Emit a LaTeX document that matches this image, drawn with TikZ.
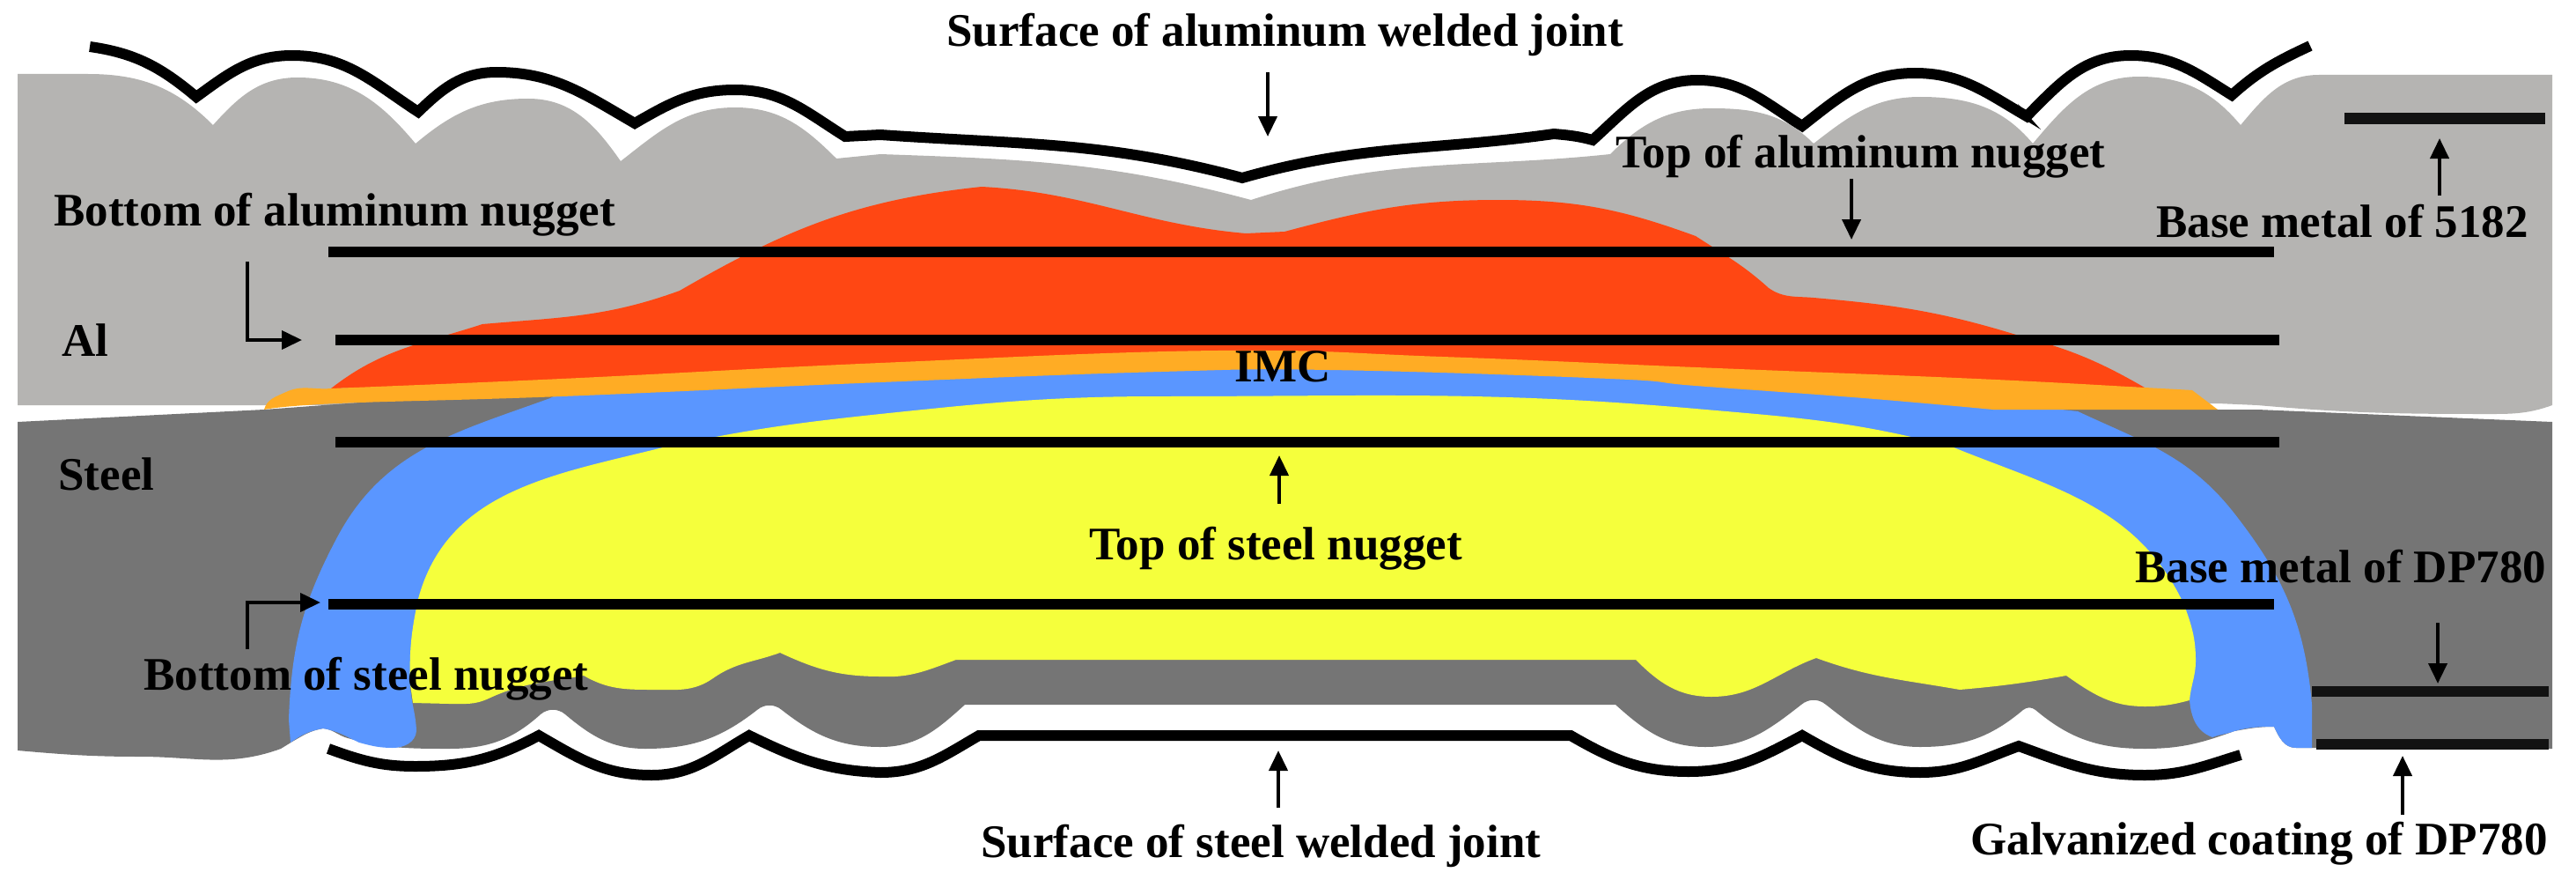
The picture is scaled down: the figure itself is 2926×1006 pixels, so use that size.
\documentclass[tikz,border=0pt]{standalone}
\usepackage{fontspec}
\setmainfont{Liberation Serif}
\usetikzlibrary{arrows.meta}
\definecolor{alcol}{HTML}{B5B4B2}
\definecolor{stcol}{HTML}{757575}
\definecolor{redcol}{HTML}{FF4713}
\definecolor{orcol}{HTML}{FFAC24}
\definecolor{blcol}{HTML}{5A96FF}
\definecolor{yecol}{HTML}{F5FF3C}
\tikzset{
  lbl/.style={anchor=base west,inner sep=0pt,font=\fontsize{26.5}{28}\selectfont\bfseries},
  barline/.style={draw=black,line width=6pt},
  surf/.style={draw=black,line width=6pt,line join=miter,miter limit=4},
  callout/.style={draw=black,line width=2pt,-{Stealth[length=11.5pt,width=10.5pt,inset=0pt]}},
  sm/.style={smooth,tension=0.7}
}
\begin{document}
\begin{tikzpicture}[x=0.5pt,y=-0.5pt]
\useasboundingbox (0,0) rectangle (2926,1006);
% aluminium sheet
\fill[alcol] (20,460) -- (20,84) -- (100,84)
 to[out=0,in=135] (242,142)
 to[out=48,in=180] (338,88) to[out=0,in=130] (472,163)
 to[out=40,in=180] (600,112) to[out=0,in=125] (705,183)
 to[out=38,in=180] (835,122) to[out=0,in=135] (950,180)
 -- (1000,175) to[out=-2,in=165] (1421,227)
 to[out=18,in=186] (1829,175)
 to[out=45,in=180] (1944,123) to[out=0,in=135] (2060,163)
 to[out=38,in=180] (2181,110) to[out=0,in=130] (2309,163)
 to[out=50,in=180] (2430,87) to[out=0,in=130] (2545,142)
 to[out=50,in=180] (2634,85)
 -- (2899,85) -- (2899,460)
 to[out=200,in=0] (2819,470) to[out=180,in=-5] (2564,460)
 -- (2519,458) -- (300,460) -- cycle;
% steel sheet
\fill[stcol] (20,479) -- (300,465) -- (640,440) -- (1000,420) -- (1900,420) -- (2264,460) -- (2519,465) -- (2564,465) -- (2899,479)
 -- (2899,850) -- (2608,849)
 to[out=180,in=-65] (2583,825) to[out=180,in=10] (2538,830)
 to[out=200,in=0] (2436,850) to[out=180,in=-40] (2312,806)
 to[out=140,in=40] (2298,806) to[out=220,in=0] (2181,848)
 to[out=180,in=-38] (2074,800) to[out=140,in=40] (2046,800) to[out=218,in=0] (1937,848)
 to[out=180,in=-42] (1835,800) -- (1096,800)
 to[out=222,in=0] (1000,848) to[out=180,in=-38] (888,806) to[out=140,in=40] (860,806)
 to[out=218,in=0] (733,850) to[out=180,in=-40] (642,811) to[out=140,in=40] (614,811)
 to[out=222,in=0] (510,850) to[out=180,in=-15] (395,838) to[out=165,in=-5] (367,827)
 to[out=190,in=30] (332,842) -- (319,850)
 to[out=200,in=0] (159,859) to[out=180,in=-5] (20,852)
 -- cycle;
% blue zone
\fill[blcol] (625,452) to[out=200,in=62] (383,610) to[out=242,in=88] (328,817) -- (330,843)
 to[out=35,in=190] (367,827) to[out=-10,in=155] (408,843) to[out=-15,in=180] (446,849)
 to[out=0,in=-95] (473,830) to[out=92,in=-88] (466,777)
 -- (480,790) -- (1000,600) -- (2000,600) -- (2480,790) -- (2487,795)
 to[out=-85,in=160] (2513,837) to[out=20,in=200] (2538,830) to[out=15,in=180] (2583,825)
 to[out=-65,in=180] (2608,849) -- (2626,849) -- (2626,800)
 to[out=95,in=-52] (2538,583) to[out=128,in=-25] (2360,467)
 -- (2117,440) -- (1829,425) -- (1510,415) -- (1319,417) -- (1000,428) -- (638,445) -- cycle;
% yellow nugget
\fill[yecol] (469,798) -- (466,777) to[out=92,in=258] (475,680)
 to[out=75,in=194] (753,508) to[out=12,in=186] (1000,470) to[out=6,in=180] (1319,450)
 to[out=0,in=175] (1926,464) to[out=-5,in=165] (2219,508)
 to[out=-22,in=115] (2481,687) to[out=-70,in=90] (2494,750) to[out=-90,in=85] (2487,795)
 to[out=195,in=0] (2436,802) to[out=180,in=-35] (2347,767)
 to[out=190,in=5] (2226,783) to[out=170,in=-20] (2063,747)
 to[out=200,in=0] (1944,791) to[out=180,in=-45] (1858,749)
 -- (1086,749) to[out=200,in=-3] (1000,768) to[out=180,in=-25] (886,741)
 to[out=200,in=35] (810,770) to[out=215,in=0] (740,783) to[out=180,in=-30] (663,767)
 to[out=190,in=25] (555,793) to[out=205,in=0] (510,799) -- cycle;
% red nugget
\fill[redcol] (376,441) to[out=38,in=198] (548,368) to[out=5,in=200] (772,330)
 to[out=30,in=186] (1115,212) to[out=-3,in=175] (1415,265) -- (1459,263)
 to[out=15,in=180] (1702,227) to[out=0,in=160] (1926,268)
 to[out=-33,in=138] (2009,327) to[out=-35,in=175] (2060,338)
 to[out=-5,in=163] (2290,380) to[out=-15,in=150] (2436,440)
 -- (2245,435) -- (1926,422) -- (1638,410) -- (1383,403) -- (1000,417) -- (638,435) -- cycle;
% orange IMC
\fill[orcol] (300,465) to[out=75,in=205] (325,445) to[out=25,in=185] (376,441)
 -- plot[sm] coordinates {(376,441)(638,430)(1000,412)(1383,398)(1638,405)(1926,417)(2245,430)(2436,440)(2490,443)}
 -- (2519,465) -- (2264,465)
 -- plot[sm] coordinates {(2264,465)(2117,452)(1926,438)(1829,430)(1510,420)(1319,422)(1000,434)(638,450)(383,458)(300,465)} -- cycle;
% surfaces
\draw[surf] (102,53) to[out=-8,in=140] (223,110)
 to[out=36,in=180] (332,63) to[out=0,in=147] (475,127)
 to[out=44,in=180] (564,82) to[out=0,in=150] (721,140)
 to[out=30,in=180] (835,102) to[out=0,in=148] (960,155)
 -- (1000,153) to[out=-4,in=165] (1411,202)
 to[out=16,in=188] (1765,152) to[out=-5,in=165] (1809,159)
 to[out=42,in=180] (1928,91) to[out=0,in=148] (2047,143)
 to[out=38,in=180] (2175,83) to[out=0,in=150] (2302,132)
 to[out=45,in=180] (2420,63) to[out=0,in=148] (2535,108)
 to[out=42,in=205] (2624,52);
\fill[black] (2292,118) -- (2318,147) -- (2300,136) -- cycle;
\draw[surf] (373,850) to[out=-20,in=180] (472,870) to[out=0,in=208] (612,835)
 to[out=-30,in=180] (740,880) to[out=0,in=210] (851,835)
 to[out=-26,in=178] (1000,877) to[out=0,in=210] (1112,835)
 -- (1784,835) to[out=-30,in=180] (1918,876) to[out=0,in=208] (2047,835)
 to[out=-30,in=180] (2181,877) to[out=0,in=200] (2293,847)
 to[out=-20,in=180] (2436,880) to[out=0,in=197] (2545,857);
% horizontal lines
\coordinate (tAlW) at (373,285.5); \coordinate (tAlE) at (2583,285.5);
\coordinate (bAlW) at (381,386);   \coordinate (bAlE) at (2589,386);
\coordinate (tStW) at (381,502);   \coordinate (tStE) at (2589,502);
\coordinate (bStW) at (373,686);   \coordinate (bStE) at (2583,686);
\coordinate (bmAW) at (2663,134);  \coordinate (bmAE) at (2891,134);
\coordinate (bmSW) at (2626,785);  \coordinate (bmSE) at (2895,785);
\coordinate (galW) at (2631,845);  \coordinate (galE) at (2895,845);
\draw[barline] (tAlW) -- (tAlE);
\draw[barline] (bAlW) -- (bAlE);
\draw[barline] (tStW) -- (tStE);
\draw[barline] (bStW) -- (bStE);
\draw[barline,line width=6.5pt,draw=black!93] (bmAW) -- (bmAE);
\draw[barline,draw=black!93] (bmSW) -- (bmSE);
\draw[barline,draw=black!93] (galW) -- (galE);
% labels
\node[lbl] (sAl) at (1075,53) {Surface of aluminum welded joint};
\node[lbl] (tAl) at (1835,190) {Top of aluminum nugget};
\node[lbl] (bAl) at (61,256) {Bottom of aluminum nugget};
\node[lbl] (al) at (70,404) {Al};
\node[lbl] (imc) at (1402,433) {IMC};
\node[lbl] (bmA) at (2449,269) {Base metal of 5182};
\node[lbl] (st) at (66,556) {Steel};
\node[lbl] (tSt) at (1237,635) {Top of steel nugget};
\node[lbl] (bSt) at (163,783) {Bottom of steel nugget};
\node[lbl] (bmS) at (2425,661) {Base metal of DP780};
\node[lbl] (sSt) at (1114,973) {Surface of steel welded joint};
\node[lbl] (gal) at (2238,970) {Galvanized coating of DP780};
% callout arrows
\coordinate (a1s) at (1440,82);  \coordinate (a1e) at (1440,155);
\coordinate (a2s) at (2103,203); \coordinate (a2e) at (2103,272);
\coordinate (a3s) at (2771,222); \coordinate (a3e) at (2771,157);
\coordinate (a4s) at (281,297);  \coordinate (a4e) at (343,386);
\coordinate (a5s) at (1453,572); \coordinate (a5e) at (1453,517);
\coordinate (a6s) at (281,737);  \coordinate (a6e) at (364,684);
\coordinate (a7s) at (1452,917); \coordinate (a7e) at (1452,852);
\coordinate (a8s) at (2769,707); \coordinate (a8e) at (2769,776);
\coordinate (a9s) at (2729,925); \coordinate (a9e) at (2729,858);
\draw[callout] (a1s) -- (a1e);
\draw[callout] (a2s) -- (a2e);
\draw[callout] (a3s) -- (a3e);
\draw[callout] (a4s) |- (a4e);
\draw[callout] (a5s) -- (a5e);
\draw[callout] (a6s) |- (a6e);
\draw[callout] (a7s) -- (a7e);
\draw[callout] (a8s) -- (a8e);
\draw[callout] (a9s) -- (a9e);
\end{tikzpicture}
\end{document}
